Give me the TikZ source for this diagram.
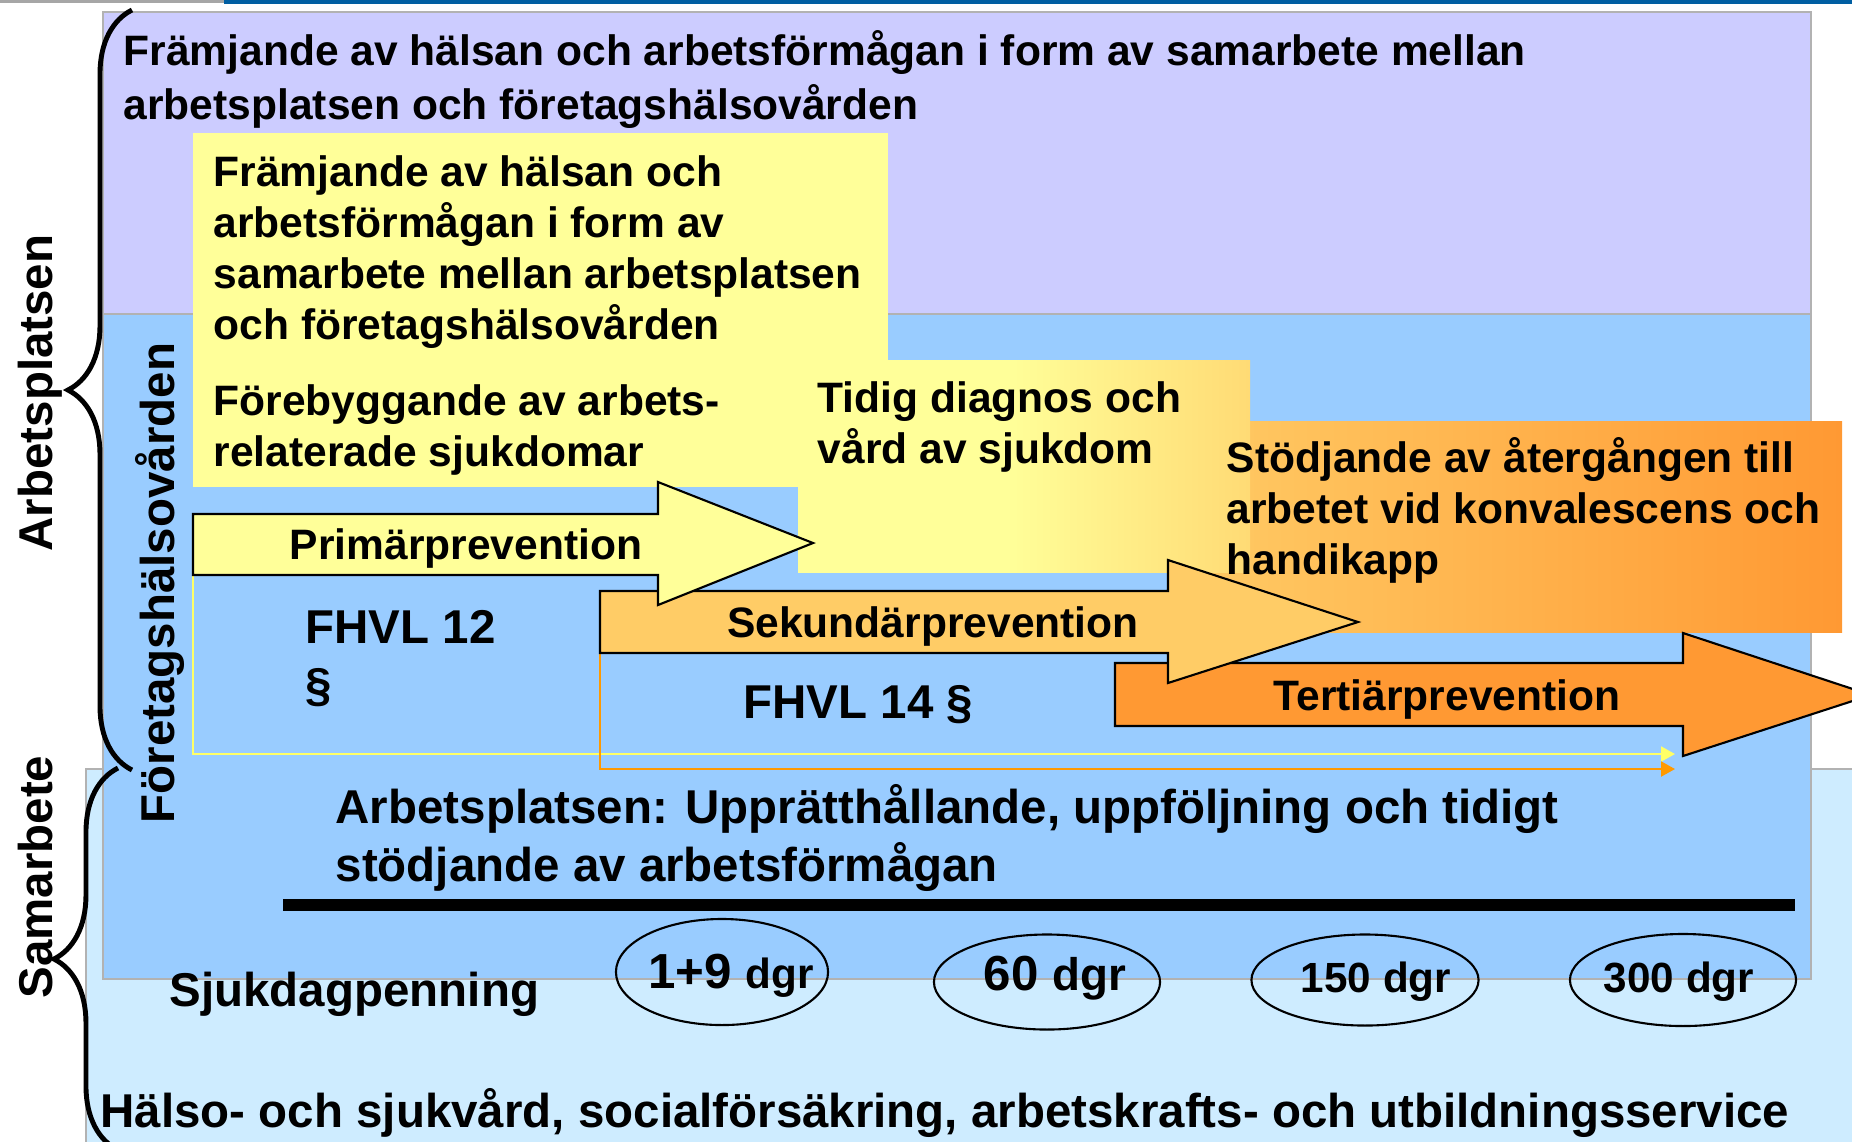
\documentclass[tikz,border=0pt]{standalone}
\usepackage{fontspec}
\setmainfont{Liberation Sans}
\usetikzlibrary{shapes.geometric,arrows.meta,decorations.pathreplacing}

\definecolor{lavender}{RGB}{204,204,255}
\definecolor{fhvblue}{RGB}{153,204,255}
\definecolor{paleblue}{RGB}{206,236,255}
\definecolor{primyellow}{RGB}{255,255,153}
\definecolor{sekorange}{RGB}{255,204,102}
\definecolor{terorange}{RGB}{255,153,51}
\definecolor{thinyellow}{RGB}{255,255,102}
\definecolor{thinorange}{RGB}{255,153,0}
\definecolor{topblue}{RGB}{0,94,162}
\definecolor{framegray}{RGB}{178,178,178}

\pgfdeclarehorizontalshading{tidigshade}{100bp}{color(0bp)=(primyellow); color(48bp)=(primyellow); color(86bp)=(sekorange); color(100bp)=(sekorange)}

\begin{document}
\begin{tikzpicture}[x=0.01cm, y=-0.01cm,
    txt/.style={font=\fontsize{12.1}{14.5}\selectfont\bfseries, align=left, inner sep=0pt, anchor=base west},
    bigtxt/.style={font=\fontsize{13.5}{16.4}\selectfont\bfseries, align=left, inner sep=0pt, anchor=base west},
    arrowtxt/.style={font=\fontsize{12.1}{14.5}\selectfont\bfseries, inner sep=0pt, anchor=base},
    sidelabel/.style={font=\fontsize{13.5}{16}\selectfont\bfseries, inner sep=0pt, rotate=90, anchor=base},
    blockarrow/.style={draw=black, line width=0.6pt},
    bracket/.style={decorate, decoration={brace, amplitude=0.64cm}, line width=1.4pt},
    dayoval/.style={ellipse, draw=black, line width=0.6pt, inner sep=0pt},
    daytxt/.style={font=\bfseries, inner sep=0pt, anchor=base},
    lawline/.style={line width=0.6pt, -{Triangle[length=0.14cm, width=0.15cm]}}
]
    \useasboundingbox (0,0) rectangle (1852,1141);
    \clip (0,0) rectangle (1852,1141);

    % Frame lines at the top
    \fill[gray!70] (0,0) rectangle (224,3);
    \fill[topblue] (224,0) rectangle (1852,4);

    % Areas
    \filldraw[fill=paleblue, draw=framegray, line width=0.7pt] (86,769) rectangle (1880,1170);
    \filldraw[fill=lavender, draw=framegray, line width=0.7pt] (103,12) rectangle (1811,314);
    \filldraw[fill=fhvblue, draw=framegray, line width=0.7pt] (103,314) rectangle (1811,979);

    % Boxes behind the arrows
    \fill[primyellow] (193,133) rectangle (888,487);
    \shade[left color=sekorange, right color=terorange] (1168,421) rectangle (1842,632);
    \shade[shading=tidigshade] (798,360) rectangle (1250,572);

    % Law lines
    \draw[lawline, thinyellow] (193,575) -- (193,754) -- (1675,754);
    \draw[lawline, thinorange] (600,652) -- (600,769) -- (1675,769);

    % Prevention arrows
    \filldraw[blockarrow, fill=terorange] (1115,663) -- (1683,663) -- (1683,633) -- (1871,695)
        -- (1683,756) -- (1683,726) -- (1115,726) -- cycle;
    \filldraw[blockarrow, fill=sekorange] (600,591) -- (1168,591) -- (1168,560) -- (1358,622)
        -- (1168,683) -- (1168,653) -- (600,653) -- cycle;
    \filldraw[blockarrow, fill=primyellow] (193,514) -- (658,514) -- (658,482) -- (813,543)
        -- (658,605) -- (658,575) -- (193,575) -- cycle;

    % Texts (multi-line nodes sit on the baseline of their last line)
    \node[txt, font=\fontsize{12.1}{15.1}\selectfont\bfseries] (promo) at (123,119)
        {Främjande av hälsan och arbetsförmågan i form av samarbete mellan\\arbetsplatsen och företagshälsovården};
    \node[txt] (promo fhv) at (213,339)
        {Främjande av hälsan och\\arbetsförmågan i form av\\samarbete mellan arbetsplatsen\\och företagshälsovården};
    \node[txt] (prevent) at (213,466) {Förebyggande av arbets-\\relaterade sjukdomar};
    \node[txt] (diagnos) at (817,463) {Tidig diagnos och\\vård av sjukdom};
    \node[txt] (return) at (1226,574) {Stödjande av återgången till\\arbetet vid konvalescens och\\handikapp};

    \node[arrowtxt] (prim) at (466,559) {Primärprevention};
    \node[arrowtxt] (sek) at (933,637) {Sekundärprevention};
    \node[arrowtxt] (ter) at (1447,710) {Tertiärprevention};

    \node[bigtxt] (law12) at (305,701) {FHVL 12\\§};
    \node[bigtxt] (law14) at (743,718) {FHVL 14 §};

    \node[bigtxt] (workplace) at (335,881)
        {Arbetsplatsen: Upprätthållande, uppföljning och tidigt\\stödjande av arbetsförmågan};
    \draw[line width=3.2pt] (283,905) -- (1795,905);

    \node[bigtxt] (sdp) at (169,1006) {Sjukdagpenning};
    \node[bigtxt] (service) at (100,1127)
        {Hälso- och sjukvård, socialförsäkring, arbetskrafts- och utbildningsservice};

    % Day limits
    \foreach \n/\x/\y/\w/\h in {10/722/972/2.12/1.06, 60/1047/982/2.26/0.95,
                                150/1365/980/2.27/0.91, 300/1683/980/2.26/0.92}
        \node[dayoval, minimum width=\w cm, minimum height=\h cm] (d\n) at (\x,\y) {};
    \node[daytxt] (t10) at (731,988) {\fontsize{14}{16}\selectfont 1+9 \fontsize{12}{14}\selectfont dgr};
    \node[daytxt] (t60) at (1055,990) {\fontsize{14}{16}\selectfont 60 \fontsize{13}{15}\selectfont dgr};
    \node[daytxt] (t150) at (1376,992) {\fontsize{12}{14}\selectfont 150 dgr};
    \node[daytxt] (t300) at (1679,992) {\fontsize{12}{14}\selectfont 300 dgr};

    % Side labels and braces
    \node[sidelabel] (wp side) at (52,393) {Arbetsplatsen};
    \node[sidelabel] (sam side) at (52,877) {Samarbete};
    \node[sidelabel] (fhv side) at (174,583) {Företagshälsovården};

    \draw[bracket] (132,770) -- (132,10);
    \draw[bracket] (118,1150) -- (118,768);

\end{tikzpicture}
\end{document}
